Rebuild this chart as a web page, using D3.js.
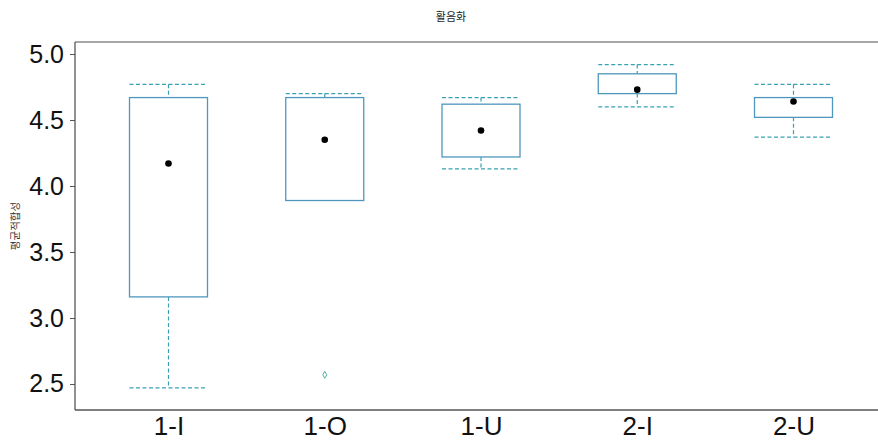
<!DOCTYPE html>
<html>
<head>
<meta charset="utf-8">
<script src="https://cdn.jsdelivr.net/npm/d3@7"></script>
<style>
  html, body { margin: 0; padding: 0; background: #fff; }
  svg { display: block; }
</style>
</head>
<body>
<svg id="chart" width="878" height="440"></svg>
<script>
// Groups and their box-plot statistics
const categories = ["1-I", "1-O", "1-U", "2-I", "2-U"];
const whiskerHigh = [4.77, 4.70, 4.67, 4.92, 4.77];
const boxHigh     = [4.67, 4.67, 4.62, 4.85, 4.67];
const boxLow      = [3.16, 3.89, 4.22, 4.70, 4.52];
const whiskerLow  = [2.47, 3.89, 4.13, 4.60, 4.37];
const means       = [4.17, 4.35, 4.42, 4.73, 4.64];
const outlierGroup = ["1-O"];
const outlierValue = [2.57];
const yTicks = [2.5, 3.0, 3.5, 4.0, 4.5, 5.0];

const title = "활음화";
const yTitle = "평균적합성";

const W = 878, H = 440;
const plot = { left: 75, top: 42, right: 878, bottom: 410 };

const svg = d3.select("#chart");

const y = d3.scaleLinear()
  .domain([2.303, 5.091])
  .range([plot.bottom, plot.top]);

const x = d3.scalePoint()
  .domain(categories)
  .range([plot.left + 93.5, plot.left + 718.5]);

const boxW = 78;
const boxColor = "#4f97bd";
const whiskerColor = "#3aa0b4";

// Frame: top, left and bottom edges
svg.append("line")
  .attr("x1", plot.left).attr("x2", plot.right)
  .attr("y1", plot.top).attr("y2", plot.top)
  .attr("stroke", "#8a8a8a").attr("stroke-width", 1.6);
svg.append("line")
  .attr("x1", plot.left).attr("x2", plot.right)
  .attr("y1", plot.bottom).attr("y2", plot.bottom)
  .attr("stroke", "#555").attr("stroke-width", 1.3);
svg.append("line")
  .attr("x1", plot.left).attr("x2", plot.left)
  .attr("y1", plot.top).attr("y2", plot.bottom)
  .attr("stroke", "#555").attr("stroke-width", 1.3);

// Y axis
const yAxis = svg.append("g")
  .attr("transform", `translate(${plot.left},0)`)
  .call(d3.axisLeft(y).tickValues(yTicks).tickFormat(d3.format(".1f")).tickSize(5).tickPadding(6));
yAxis.select(".domain").remove();
yAxis.selectAll(".tick line").attr("stroke", "#555");
yAxis.selectAll(".tick text")
  .attr("font-family", "Liberation Sans, Arial, sans-serif")
  .attr("font-size", 25)
  .attr("fill", "#111");

// X axis labels
const xAxis = svg.append("g")
  .attr("transform", `translate(0,${plot.bottom})`)
  .call(d3.axisBottom(x).tickSize(0).tickPadding(7));
xAxis.select(".domain").remove();
xAxis.selectAll(".tick text")
  .attr("font-family", "Liberation Sans, Arial, sans-serif")
  .attr("font-size", 26)
  .attr("fill", "#111");

// Boxes
const stats = categories.map((c, i) => ({
  c, hi: whiskerHigh[i], q3: boxHigh[i], q1: boxLow[i], lo: whiskerLow[i], m: means[i]
}));

const g = svg.append("g");
stats.forEach(s => {
  const cx = x(s.c);
  const dash = "4,2.5";
  // upper whisker
  g.append("line").attr("x1", cx).attr("x2", cx)
    .attr("y1", y(s.hi)).attr("y2", y(s.q3))
    .attr("stroke", whiskerColor).attr("stroke-dasharray", dash).attr("stroke-width", 1.2);
  g.append("line").attr("x1", cx - boxW / 2).attr("x2", cx + boxW / 2)
    .attr("y1", y(s.hi)).attr("y2", y(s.hi))
    .attr("stroke", whiskerColor).attr("stroke-dasharray", dash).attr("stroke-width", 1.2);
  // lower whisker
  g.append("line").attr("x1", cx).attr("x2", cx)
    .attr("y1", y(s.q1)).attr("y2", y(s.lo))
    .attr("stroke", whiskerColor).attr("stroke-dasharray", dash).attr("stroke-width", 1.2);
  if (s.lo < s.q1) {
    g.append("line").attr("x1", cx - boxW / 2).attr("x2", cx + boxW / 2)
      .attr("y1", y(s.lo)).attr("y2", y(s.lo))
      .attr("stroke", whiskerColor).attr("stroke-dasharray", dash).attr("stroke-width", 1.2);
  }
  // box
  g.append("rect")
    .attr("x", cx - boxW / 2).attr("width", boxW)
    .attr("y", y(s.q3)).attr("height", y(s.q1) - y(s.q3))
    .attr("fill", "none").attr("stroke", boxColor).attr("stroke-width", 1.3);
  // mean
  g.append("circle").attr("cx", cx).attr("cy", y(s.m)).attr("r", 3.3).attr("fill", "#000");
});

// Outliers (small diamonds)
outlierGroup.forEach((c, i) => {
  g.append("path")
    .attr("transform", `translate(${x(c)},${y(outlierValue[i])})`)
    .attr("d", d3.symbol().type(d3.symbolDiamond).size(14)())
    .attr("fill", "none").attr("stroke", "#3aa89a").attr("stroke-width", 0.9);
});

// Titles
svg.append("text")
  .attr("x", 451).attr("y", 21)
  .attr("text-anchor", "middle")
  .attr("font-family", "Noto Sans CJK KR, sans-serif")
  .attr("font-size", 11)
  .attr("fill", "#222")
  .text(title);

svg.append("text")
  .attr("transform", "translate(19,226) rotate(-90)")
  .attr("text-anchor", "middle")
  .attr("font-family", "Noto Sans CJK KR, sans-serif")
  .attr("font-size", 10.5)
  .attr("fill", "#333")
  .text(yTitle);
</script>
</body>
</html>
